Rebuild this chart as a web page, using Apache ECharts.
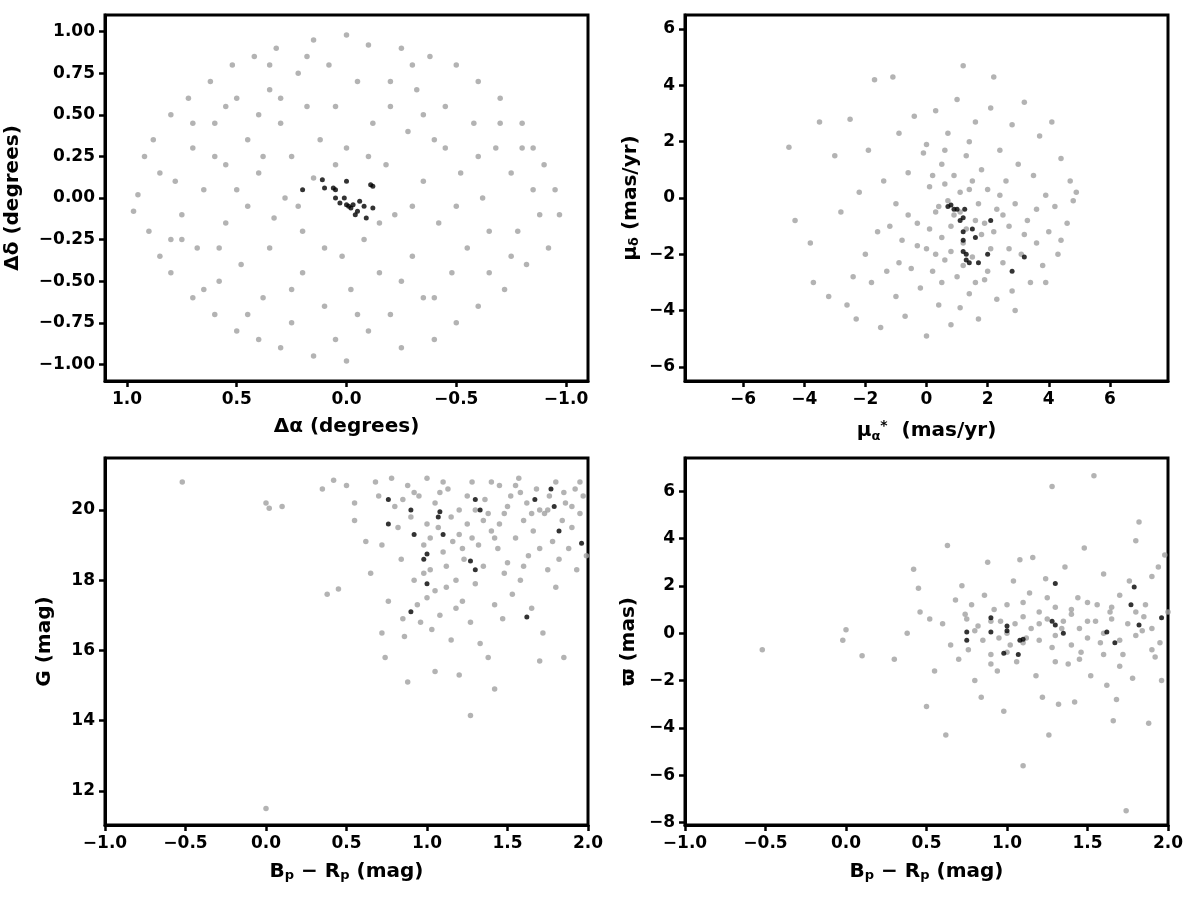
<!DOCTYPE html>
<html><head><meta charset="utf-8">
<script src="https://cdn.jsdelivr.net/npm/echarts@6/dist/echarts.min.js"></script>
<style>html,body{margin:0;background:#fff}#c{width:1200px;height:900px}</style>
</head><body><div id="c"></div>
<script>
// Panel 1: sky positions (Δα, Δδ)
const skyField = [[0.95,0.02],[0.92,0.25],[0.9,-0.2],[0.88,0.35],[0.85,-0.35],[0.8,0.5],[0.8,-0.45],[0.78,0.1],[0.75,-0.1],[0.72,0.6],[0.7,-0.6],[0.7,0.3],[0.68,-0.3],[0.65,0.05],[0.62,0.7],[0.6,-0.7],[0.6,0.45],[0.58,-0.5],[0.55,0.2],[0.55,-0.15],[0.52,0.8],[0.5,-0.8],[0.5,0.6],[0.48,-0.4],[0.45,0.35],[0.45,-0.05],[0.42,0.85],[0.4,-0.85],[0.4,0.15],[0.38,-0.6],[0.35,0.65],[0.35,-0.3],[0.32,0.9],[0.3,-0.9],[0.3,0.45],[0.28,0.0],[0.25,-0.75],[0.25,0.25],[0.22,0.75],[0.2,-0.45],[0.2,-0.2],[0.18,0.55],[0.15,0.95],[0.15,-0.95],[0.12,0.35],[0.1,-0.65],[0.08,0.8],[0.05,-0.85],[0.05,0.55],[0.02,-0.35],[0.0,0.98],[0.0,-0.98],[0.0,0.3],[-0.02,-0.55],[-0.05,0.7],[-0.08,-0.25],[-0.1,0.92],[-0.1,-0.8],[-0.12,0.45],[-0.15,-0.45],[-0.18,0.2],[-0.2,0.7],[-0.2,-0.7],[-0.22,-0.1],[-0.25,0.9],[-0.25,-0.9],[-0.28,0.4],[-0.3,-0.35],[-0.32,0.65],[-0.35,-0.6],[-0.35,0.1],[-0.38,0.85],[-0.4,-0.85],[-0.4,0.35],[-0.42,-0.15],[-0.45,0.55],[-0.48,-0.45],[-0.5,0.8],[-0.5,-0.75],[-0.52,0.15],[-0.55,-0.3],[-0.58,0.45],[-0.6,0.7],[-0.6,-0.65],[-0.62,0.0],[-0.65,-0.45],[-0.68,0.3],[-0.7,0.6],[-0.72,-0.55],[-0.75,0.15],[-0.78,-0.2],[-0.8,0.45],[-0.82,-0.4],[-0.85,0.3],[-0.88,-0.1],[-0.9,0.2],[-0.92,-0.3],[-0.95,0.05],[-0.97,-0.1],[0.97,-0.08],[0.6,0.25],[0.33,-0.12],[0.15,0.12],[-0.15,-0.15],[-0.3,-0.05],[0.3,0.6],[-0.45,0.3],[0.1,-0.3],[0.4,0.5],[-0.6,0.25],[0.65,-0.55],[-0.75,-0.35],[0.25,-0.55],[-0.2,0.55],[0.5,0.05],[-0.5,-0.05],[0.85,0.15],[-0.85,0.05],[0.18,0.85],[-0.05,-0.7],[0.7,0.45],[-0.7,0.45],[0.45,-0.7],[-0.4,-0.6],[0.05,0.2],[-0.1,0.25],[0.58,-0.3],[-0.25,-0.5],[0.38,0.25],[0.75,-0.25],[-0.65,-0.2],[0.22,-0.05],[-0.35,0.5],[0.55,0.55],[0.8,-0.25],[-0.8,0.3],[0.35,0.8],[-0.3,0.8]];
const skyMembers = [[0.2,0.05],[0.11,0.11],[0.1,0.06],[0.06,0.06],[0.05,0.05],[0.05,0.0],[0.03,-0.03],[0.0,-0.04],[0.01,0.0],[-0.01,-0.05],[-0.02,-0.06],[-0.03,-0.04],[-0.04,-0.1],[-0.06,-0.02],[-0.08,-0.05],[-0.09,-0.12],[-0.11,0.08],[-0.12,0.07],[-0.12,-0.06],[0.0,0.1],[-0.05,-0.08]];
// Panel 2: proper motions
const pmField = [[-4.5,1.8],[-4.3,-0.8],[-3.8,-1.6],[-3.7,-3.0],[-3.5,2.7],[-3.2,-3.5],[-3.0,1.5],[-2.8,-0.5],[-2.6,-3.8],[-2.5,2.8],[-2.3,-4.3],[-2.2,0.2],[-2.0,-2.0],[-1.9,1.7],[-1.8,-3.0],[-1.7,4.2],[-1.6,-1.2],[-1.5,-4.6],[-1.4,0.6],[-1.3,-2.6],[-1.1,4.3],[-1.0,-0.2],[-1.0,-3.5],[-0.9,2.3],[-0.8,-1.5],[-0.7,-4.2],[-0.6,0.9],[-0.5,-2.5],[-0.4,2.9],[-0.3,-0.9],[-0.2,-3.2],[-0.1,1.6],[0.0,-1.8],[0.0,-4.9],[0.1,0.4],[0.2,-2.6],[0.3,3.1],[0.3,-0.5],[0.4,-3.8],[0.5,1.2],[0.5,-1.4],[0.6,-2.2],[0.7,2.3],[0.7,-0.1],[0.8,-4.5],[0.8,-1.0],[0.9,0.8],[1.0,-2.8],[1.0,3.5],[1.1,-0.5],[1.2,-1.6],[1.2,4.7],[1.3,1.5],[1.4,-3.4],[1.4,0.3],[1.5,-2.1],[1.6,2.7],[1.6,-0.8],[1.7,-4.3],[1.8,1.0],[1.8,-1.3],[1.9,-2.9],[2.0,0.3],[2.1,3.2],[2.1,-1.8],[2.2,4.3],[2.3,-0.4],[2.3,-3.6],[2.4,1.7],[2.5,-2.3],[2.6,0.6],[2.7,-1.0],[2.8,2.6],[2.8,-3.3],[2.9,-0.2],[3.0,1.2],[3.1,-2.0],[3.2,3.4],[3.3,-0.8],[3.4,-3.0],[3.5,0.8],[3.6,-1.6],[3.7,2.2],[3.8,-2.4],[3.9,0.1],[4.0,-1.2],[4.1,2.7],[4.2,-0.3],[4.3,-2.0],[4.4,1.4],[4.6,-0.9],[4.7,0.6],[4.8,-0.1],[4.9,0.2],[0.2,0.8],[0.4,-0.3],[0.6,0.5],[0.9,-0.6],[1.1,0.2],[1.3,-1.1],[1.5,0.6],[1.7,-0.2],[1.9,-0.9],[2.2,-1.2],[2.5,-0.6],[0.1,-1.1],[-0.3,-1.7],[-0.6,-0.6],[0.3,-2.0],[0.8,-1.9],[1.2,-2.4],[1.6,-3.0],[2.0,-2.6],[2.7,-1.8],[3.2,-1.3],[3.6,-0.4],[0.0,1.9],[0.6,1.7],[1.4,2.0],[2.4,0.1],[-1.2,-1.0],[-0.9,-2.3],[0.5,-3.0],[1.1,-3.9],[2.9,-4.0],[3.9,-3.0],[-2.4,-2.8],[4.4,-1.5]];
const pmMembers = [[0.7,-0.3],[0.8,-0.25],[0.9,-0.4],[1.1,-0.8],[1.2,-0.7],[1.25,-0.4],[1.2,-1.2],[1.2,-1.5],[1.2,-1.9],[1.3,-2.0],[1.4,-2.3],[1.3,-2.2],[1.6,-1.4],[1.5,-1.1],[1.7,-2.3],[2.0,-2.0],[2.1,-0.8],[2.8,-2.6],[3.2,-2.1],[1.0,-0.4]];
// Panel 3: colour-magnitude
const cmdField = [[-0.52,20.8],[0.0,20.2],[0.02,20.05],[0.1,20.1],[0.0,11.5],[0.38,17.6],[0.45,17.75],[0.35,20.6],[0.42,20.85],[0.5,20.7],[0.55,20.2],[0.55,19.7],[0.62,19.1],[0.65,18.2],[0.68,20.8],[0.7,20.4],[0.72,19.0],[0.72,16.5],[0.74,15.8],[0.76,17.4],[0.78,20.9],[0.8,20.1],[0.82,19.5],[0.84,18.6],[0.85,16.9],[0.86,16.4],[0.88,15.1],[0.88,20.7],[0.9,19.8],[0.92,18.0],[0.94,17.3],[0.95,20.4],[0.96,16.8],[0.98,19.0],[1.0,17.5],[1.0,20.9],[1.02,18.3],[1.03,16.6],[1.05,15.4],[1.05,20.2],[1.07,19.5],[1.08,17.0],[1.1,18.8],[1.12,17.8],[1.13,20.6],[1.15,16.3],[1.16,19.1],[1.18,18.0],[1.2,15.3],[1.2,20.0],[1.22,17.4],[1.23,18.6],[1.25,19.6],[1.27,14.15],[1.27,16.8],[1.28,20.8],[1.3,17.9],[1.32,19.0],[1.33,16.2],[1.35,18.4],[1.36,20.3],[1.38,15.8],[1.4,19.4],[1.42,14.9],[1.42,17.3],[1.44,18.9],[1.45,20.7],[1.47,16.9],[1.48,19.9],[1.5,18.5],[1.52,20.4],[1.53,17.6],[1.55,19.2],[1.57,20.9],[1.58,18.0],[1.6,19.7],[1.62,20.2],[1.63,18.7],[1.65,17.2],[1.66,19.4],[1.68,20.6],[1.7,18.9],[1.7,15.7],[1.72,16.5],[1.73,19.9],[1.75,18.3],[1.76,20.4],[1.78,19.1],[1.8,17.8],[1.8,20.8],[1.82,18.6],[1.84,19.7],[1.85,15.8],[1.86,20.2],[1.88,18.9],[1.9,19.5],[1.92,20.6],[1.93,18.3],[1.95,19.9],[1.97,20.4],[1.99,18.7],[0.92,20.5],[1.0,19.6],[1.08,20.5],[1.15,19.8],[1.25,20.4],[1.3,20.0],[1.38,19.9],[1.45,19.6],[1.5,20.1],[1.58,20.5],[1.65,19.9],[1.75,20.0],[1.85,20.5],[1.95,20.8],[1.1,20.8],[1.2,19.3],[1.4,20.8],[1.55,20.7],[0.98,18.2],[1.05,17.7],[1.12,18.4],[1.18,17.2],[1.22,18.9],[1.35,19.7],[1.48,18.2],[1.6,18.4],[1.7,20.0],[1.9,20.1],[1.02,19.2],[1.28,19.2],[0.85,20.3],[1.42,19.2]];
const cmdMembers = [[0.76,20.3],[0.76,19.6],[0.9,20.0],[0.92,19.3],[1.0,18.75],[0.98,18.6],[1.0,17.9],[0.9,17.1],[1.07,19.8],[1.08,19.95],[1.1,19.3],[1.27,18.55],[1.3,18.3],[1.3,20.3],[1.33,20.0],[1.62,16.95],[1.67,20.3],[1.77,20.6],[1.79,20.1],[1.82,19.4],[1.96,19.05]];
// Panel 4: parallax
const plxField = [[-0.52,-0.7],[-0.02,-0.3],[0.0,0.15],[0.1,-0.95],[0.3,-1.1],[0.38,0.0],[0.42,2.7],[0.45,1.9],[0.46,0.9],[0.5,-3.1],[0.52,0.6],[0.55,-1.6],[0.6,0.4],[0.62,-4.3],[0.63,3.7],[0.65,-0.5],[0.68,1.4],[0.7,-1.1],[0.72,2.0],[0.74,0.8],[0.76,-0.7],[0.78,1.2],[0.8,-2.0],[0.82,0.3],[0.84,-2.7],[0.86,1.6],[0.88,3.0],[0.9,-0.9],[0.92,1.0],[0.94,-1.6],[0.96,0.5],[0.98,-3.3],[1.0,1.2],[1.02,-0.5],[1.04,2.2],[1.06,-1.2],[1.08,3.1],[1.1,-5.6],[1.1,0.7],[1.12,-0.2],[1.14,1.7],[1.16,3.2],[1.18,-1.8],[1.2,0.4],[1.22,-2.7],[1.24,2.3],[1.26,-4.3],[1.28,6.2],[1.28,-0.6],[1.3,1.1],[1.32,-3.0],[1.34,0.2],[1.36,2.8],[1.38,-1.3],[1.4,0.8],[1.42,-2.9],[1.44,1.5],[1.46,-0.8],[1.48,3.6],[1.5,0.5],[1.52,-1.8],[1.54,6.65],[1.56,1.2],[1.58,-0.4],[1.6,2.5],[1.62,-2.2],[1.64,0.9],[1.66,-3.7],[1.68,-2.8],[1.7,1.6],[1.72,-0.9],[1.74,-7.5],[1.76,2.2],[1.78,-1.9],[1.8,3.9],[1.82,4.7],[1.84,0.1],[1.86,1.2],[1.88,-3.8],[1.9,2.4],[1.92,-1.0],[1.94,2.8],[1.96,-2.0],[1.98,3.3],[0.8,0.1],[0.85,-0.3],[0.9,0.5],[0.95,-0.2],[1.0,0.0],[1.05,0.4],[1.1,-0.4],[1.15,0.2],[1.2,-0.3],[1.25,0.6],[1.3,-0.1],[1.35,0.5],[1.4,-0.5],[1.45,0.2],[1.5,-0.2],[1.55,0.5],[1.6,0.0],[1.65,0.6],[1.7,-0.3],[1.75,0.4],[1.8,-0.1],[1.85,0.7],[1.9,0.2],[1.95,-0.4],[2.0,0.9],[0.75,0.6],[1.0,-0.8],[1.2,0.9],[1.4,1.0],[1.6,-0.9],[1.8,0.9],[1.3,-1.2],[1.5,1.3],[1.7,-1.4],[1.1,1.3],[0.9,-1.3],[1.45,-1.1],[1.65,1.1],[1.9,-0.7],[1.25,1.5]];
const plxMembers = [[0.75,-0.3],[0.75,0.05],[0.9,0.65],[0.9,0.05],[0.98,-0.85],[1.0,0.1],[1.0,0.3],[1.07,-0.9],[1.08,-0.3],[1.1,-0.25],[1.28,0.5],[1.3,0.35],[1.3,2.1],[1.35,0.0],[1.62,0.05],[1.67,-0.4],[1.77,1.2],[1.79,1.95],[1.82,0.35],[1.96,0.65]];

const F = 'DejaVu Sans';
const lab = {fontFamily:F,fontWeight:'bold',fontSize:17,color:'#000'};
const rich = {
  b:{fontFamily:F,fontWeight:'bold',fontSize:20,color:'#000'},
  s:{fontFamily:F,fontWeight:'bold',fontSize:13,color:'#000',verticalAlign:'bottom',padding:[8,0,0,0]},
  p:{fontFamily:F,fontWeight:'bold',fontSize:14,color:'#000',padding:[0,0,10,0]}
};
const minus = v => String(v).replace('-', '\u2212');
function axis(o){
  return Object.assign({
    type:'value', nameLocation:'middle', nameTextStyle:{fontFamily:F,fontWeight:'bold',fontSize:20,color:'#000',rich:rich},
    axisLine:{show:true,onZero:false,lineStyle:{color:'#000',width:3}},
    axisTick:{show:true,inside:false,length:6,lineStyle:{color:'#000',width:2.5},customValues:o.cv},
    axisLabel:Object.assign({},lab,{customValues:o.cv,formatter:o.fmt,margin:10}),
    splitLine:{show:false}
  }, o.x);
}
const grids = [
  {left:105,top:15,width:483,height:366},
  {left:685,top:15,width:483,height:366},
  {left:105,top:458,width:483,height:367},
  {left:685,top:458,width:483,height:367}
].map(g=>Object.assign(g,{show:true,borderColor:'#000',borderWidth:3}));

const xAxis = [
  axis({cv:[1,0.5,0,-0.5,-1],fmt:v=>minus(v.toFixed(1)),x:{gridIndex:0,min:-1.1,max:1.1,inverse:true,name:'Δα (degrees)',nameGap:36}}),
  axis({cv:[-6,-4,-2,0,2,4,6],fmt:v=>minus(v),x:{gridIndex:1,min:-7.9,max:7.9,name:'{b|μ}{s|α}{p|*}{b|  (mas/yr)}',nameGap:38}}),
  axis({cv:[-1,-0.5,0,0.5,1,1.5,2],fmt:v=>minus(v.toFixed(1)),x:{gridIndex:2,min:-1,max:2,name:'{b|B}{s|p}{b| − R}{s|p}{b| (mag)}',nameGap:36}}),
  axis({cv:[-1,-0.5,0,0.5,1,1.5,2],fmt:v=>minus(v.toFixed(1)),x:{gridIndex:3,min:-1,max:2,name:'{b|B}{s|p}{b| − R}{s|p}{b| (mag)}',nameGap:36}})
];
const yAxis = [
  axis({cv:[-1,-0.75,-0.5,-0.25,0,0.25,0.5,0.75,1],fmt:v=>minus(v.toFixed(2)),x:{gridIndex:0,min:-1.1,max:1.1,name:'Δδ (degrees)',nameGap:82}}),
  axis({cv:[-6,-4,-2,0,2,4,6],fmt:v=>minus(v),x:{gridIndex:1,min:-6.5,max:6.5,name:'{b|μ}{s|δ}{b| (mas/yr)}',nameGap:44}}),
  axis({cv:[12,14,16,18,20],fmt:v=>String(v),x:{gridIndex:2,min:11.03,max:21.48,name:'G (mag)',nameGap:50}}),
  axis({cv:[-8,-6,-4,-2,0,2,4,6],fmt:v=>minus(v),x:{gridIndex:3,min:-8.1,max:7.4,name:'ϖ (mas)',nameGap:46}})
];
const fieldSets=[skyField,pmField,cmdField,plxField], memSets=[skyMembers,pmMembers,cmdMembers,plxMembers];
const series=[];
fieldSets.forEach((d,i)=>series.push({type:'scatter',xAxisIndex:i,yAxisIndex:i,data:d,symbolSize:5.5,itemStyle:{color:'#a0a0a0'},silent:true}));
memSets.forEach((d,i)=>series.push({type:'scatter',xAxisIndex:i,yAxisIndex:i,data:d,symbolSize:5,itemStyle:{color:'#000'},silent:true,z:5}));
const chart = echarts.init(document.getElementById('c'));
chart.setOption({animation:false,backgroundColor:'#fff',grid:grids,xAxis:xAxis,yAxis:yAxis,series:series});
</script></body></html>
